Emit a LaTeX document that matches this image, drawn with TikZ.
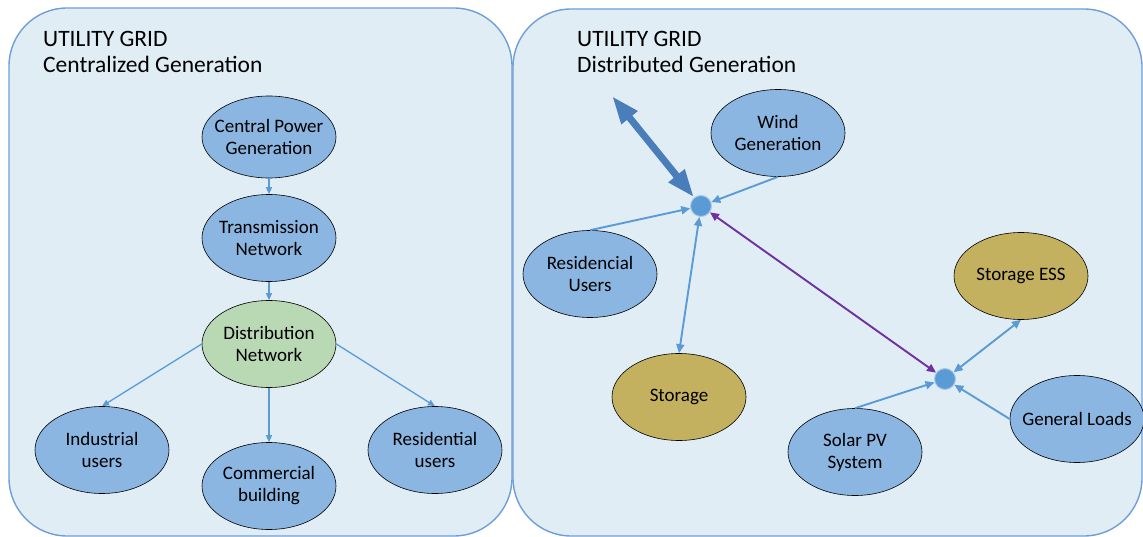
\documentclass[tikz,border=0pt]{standalone}
\usepackage{fontspec}
\setmainfont{Carlito}
\usepackage{tikz}
\usetikzlibrary{arrows,arrows.meta,shapes.geometric}

\definecolor{gridbg}{RGB}{224,237,245}
\definecolor{gridrim}{RGB}{110,158,218}
\definecolor{unitblue}{RGB}{138,182,225}
\definecolor{unitgreen}{RGB}{185,216,180}
\definecolor{unitgold}{RGB}{196,177,96}
\definecolor{linkblue}{RGB}{91,155,213}
\definecolor{hubrim}{RGB}{170,202,232}
\definecolor{bigblue}{RGB}{74,126,187}
\definecolor{linkpurple}{RGB}{112,48,160}

\begin{document}
\begin{tikzpicture}
  [x=1pt,y=-1pt,->,>={Triangle[length=9pt,width=8pt]},every node/.style={align=center}]
  \tikzstyle{gridbox}=[-,draw=gridrim,line width=1.4pt,fill=gridbg,rounded corners=58pt]
  \tikzstyle{unit}=[ellipse,draw=black,line width=0.6pt,fill=unitblue,minimum width=134pt,minimum height=87pt,inner xsep=-14pt,inner ysep=0pt,font=\fontsize{19}{22}\selectfont]
  \tikzstyle{hub}=[circle,fill=linkblue,draw=hubrim,line width=1pt,minimum size=21pt,inner sep=0pt]
  \tikzstyle{title}=[anchor=north west,align=left,inner sep=0pt,font=\fontsize{23.5}{26}\selectfont]
  \tikzstyle{flow}=[color=linkblue,line width=1.3pt,>={Triangle[length=7pt,width=6pt]}]
  \tikzstyle{link}=[color=linkblue,line width=1.9pt]
  \useasboundingbox (0,0) rectangle (1143,537);

  % centralized side
  \begin{scope}
    \path[gridbox] (9,8) rectangle (512,536);
    \node[title] (titleC) at (43,31) {UTILITY GRID\\Centralized Generation};
    \node[unit,minimum height=82pt] (cpg) at (269,137) {Central Power\\Generation};
    \node[unit] (trn) at (269,238) {Transmission\\Network};
    \node[unit,fill=unitgreen] (dst) at (269,344) {Distribution\\Network};
    \node[unit] (ind) at (102,450) {Industrial\\users};
    \node[unit] (com) at (269,486) {Commercial\\building};
    \node[unit] (res) at (435,450) {Residential\\users};
  \end{scope}

  % distributed side
  \begin{scope}
    \path[gridbox] (513,9) rectangle (1142,536);
    \node[title] (titleD) at (577,31) {UTILITY GRID\\Distributed Generation};
    \node[unit] (wind) at (778,133) {Wind\\Generation};
    \node[unit] (rsu) at (590,274) {Residencial\\Users};
    \node[unit,fill=unitgold] (sto) at (679,397) {Storage};
    \node[unit,fill=unitgold] (ess) at (1021,276) {Storage ESS};
    \node[unit] (pv) at (855,452) {Solar PV\\System};
    \node[unit] (load) at (1077,419) {General Loads};
    \node[hub] (hubA) at (701,206) {};
    \node[hub] (hubB) at (945,379) {};
    \coordinate (gridout) at (612,96);
  \end{scope}

  \path[flow] (cpg) edge (trn);
  \path[flow] (trn) edge (dst);
  \path[flow] (dst.west) edge (ind.north);
  \path[flow] (dst) edge (com);
  \path[flow] (dst.east) edge (res.north);

  \draw[{Triangle[length=28pt,width=19pt]}-{Triangle[length=28pt,width=19pt]},line width=7pt,draw=bigblue] (hubA) -- (gridout);
  \path[link] (wind.south) edge (hubA);
  \path[link] (rsu.north) edge (hubA);
  \path[link] (hubA) edge[<->] (sto.north);
  \path[link,color=linkpurple] (hubA) edge[<->] (hubB);
  \path[link] (hubB) edge[<->] (ess.south);
  \path[link] (pv.north) edge (hubB);
  \path[link] (load.west) edge (hubB);

\end{tikzpicture}
\end{document}
